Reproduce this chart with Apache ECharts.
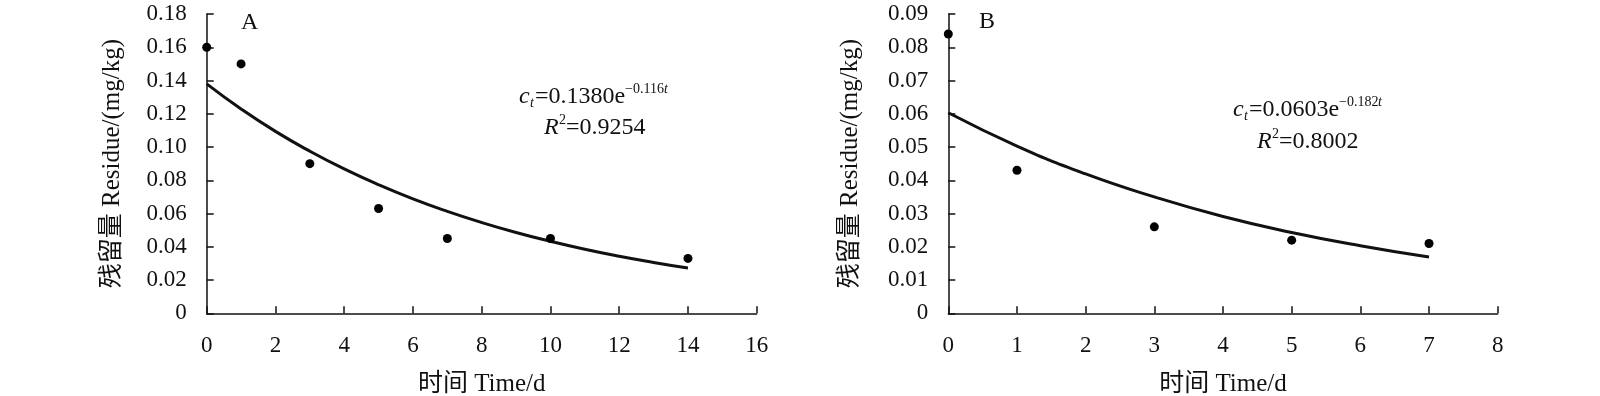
<!DOCTYPE html>
<html><head><meta charset="utf-8">
<script src="https://cdn.jsdelivr.net/npm/echarts@6/dist/echarts.min.js"></script>
<style>html,body{margin:0;padding:0;background:#fff}#c{width:1600px;height:396px}</style>
</head><body><div id="c"></div>
<script>
// Panel A
const daysA = [0, 1, 3, 5, 7, 10, 14];
const residueA = [0.160, 0.150, 0.090, 0.063, 0.045, 0.045, 0.033];
const fitTimeA = [0, 1, 2, 3, 4, 5, 6, 7, 8, 9, 10, 11, 12, 13, 14];
const fitA = [0.1380, 0.1229, 0.1094, 0.0975, 0.0868, 0.0773, 0.0688, 0.0613, 0.0546, 0.0486, 0.0433, 0.0385, 0.0343, 0.0306, 0.0272];
// Panel B
const daysB = [0, 1, 3, 5, 7];
const residueB = [0.084, 0.043, 0.026, 0.022, 0.021];
const fitTimeB = [0, 1, 2, 3, 4, 5, 6, 7];
const fitB = [0.0603, 0.0503, 0.0419, 0.0350, 0.0291, 0.0243, 0.0203, 0.0169];

const yTitle = '残留量 Residue/(mg/kg)';
const xTitle = '时间 Time/d';
const FONT = '"Liberation Serif", "Noto Sans CJK SC", serif';

const pairs = (xs, ys) => xs.map((x, i) => [x, ys[i]]);
const axisCommon = {
  axisLine: {show: true, lineStyle: {color: '#111', width: 1.5}},
  axisTick: {show: true, inside: true, length: 7, lineStyle: {color: '#111', width: 1.5}},
  splitLine: {show: false},
  axisLabel: {color: '#111', fontFamily: FONT, fontSize: 23},
  nameTextStyle: {color: '#111', fontFamily: FONT, fontSize: 25}
};
const yfmt = v => v === 0 ? '0' : v.toFixed(2);

const chart = echarts.init(document.getElementById('c'));
chart.setOption({
  animation: false,
  grid: [
    {left: 206.7, right: 843.3, top: 14, bottom: 82.7, containLabel: false, outerBoundsMode: 'none'},
    {left: 948.3, right: 102.3, top: 14, bottom: 82.7, containLabel: false, outerBoundsMode: 'none'}
  ],
  xAxis: [
    Object.assign({}, axisCommon, {gridIndex: 0, type: 'value', min: 0, max: 16, interval: 2,
      name: xTitle, nameLocation: 'middle', nameGap: 59,
      axisLabel: Object.assign({}, axisCommon.axisLabel, {margin: 21})}),
    Object.assign({}, axisCommon, {gridIndex: 1, type: 'value', min: 0, max: 8, interval: 1,
      name: xTitle, nameLocation: 'middle', nameGap: 59,
      axisLabel: Object.assign({}, axisCommon.axisLabel, {margin: 21})})
  ],
  yAxis: [
    Object.assign({}, axisCommon, {gridIndex: 0, type: 'value', min: 0, max: 0.18, interval: 0.02,
      name: yTitle, nameLocation: 'middle', nameGap: 82,
      axisLabel: Object.assign({}, axisCommon.axisLabel, {margin: 20, formatter: yfmt})}),
    Object.assign({}, axisCommon, {gridIndex: 1, type: 'value', min: 0, max: 0.09, interval: 0.01,
      name: yTitle, nameLocation: 'middle', nameGap: 85,
      axisLabel: Object.assign({}, axisCommon.axisLabel, {margin: 20, formatter: yfmt})})
  ],
  series: [
    {type: 'line', xAxisIndex: 0, yAxisIndex: 0, data: pairs(fitTimeA, fitA), smooth: true,
      showSymbol: false, lineStyle: {color: '#111', width: 3}, z: 2},
    {type: 'scatter', xAxisIndex: 0, yAxisIndex: 0, data: pairs(daysA, residueA), symbolSize: 9,
      itemStyle: {color: '#000', opacity: 1}, z: 3},
    {type: 'line', xAxisIndex: 1, yAxisIndex: 1, data: pairs(fitTimeB, fitB), smooth: true,
      showSymbol: false, lineStyle: {color: '#111', width: 3}, z: 2},
    {type: 'scatter', xAxisIndex: 1, yAxisIndex: 1, data: pairs(daysB, residueB), symbolSize: 9,
      itemStyle: {color: '#000', opacity: 1}, z: 3}
  ],
  graphic: [
    {type: 'text', x: 241, y: 11, style: {text: 'A', font: '24px ' + FONT, fill: '#111'}},
    {type: 'text', x: 979, y: 10, style: {text: 'B', font: '24px ' + FONT, fill: '#111'}},
    // equation A
    {type: 'text', x: 519, y: 85, style: {text: 'c', font: 'italic 24px ' + FONT, fill: '#111'}},
    {type: 'text', x: 530, y: 96, style: {text: 't', font: 'italic 14px ' + FONT, fill: '#111'}},
    {type: 'text', x: 535, y: 85, style: {text: '=0.1380e', font: '24px ' + FONT, fill: '#111'}},
    {type: 'text', x: 625, y: 82, style: {text: '−0.116', font: '14px ' + FONT, fill: '#111'}},
    {type: 'text', x: 664, y: 82, style: {text: 't', font: 'italic 14px ' + FONT, fill: '#111'}},
    {type: 'text', x: 544, y: 116, style: {text: 'R', font: 'italic 24px ' + FONT, fill: '#111'}},
    {type: 'text', x: 559, y: 113, style: {text: '2', font: '14px ' + FONT, fill: '#111'}},
    {type: 'text', x: 566, y: 116, style: {text: '=0.9254', font: '24px ' + FONT, fill: '#111'}},
    // equation B
    {type: 'text', x: 1233, y: 98, style: {text: 'c', font: 'italic 24px ' + FONT, fill: '#111'}},
    {type: 'text', x: 1244, y: 109, style: {text: 't', font: 'italic 14px ' + FONT, fill: '#111'}},
    {type: 'text', x: 1249, y: 98, style: {text: '=0.0603e', font: '24px ' + FONT, fill: '#111'}},
    {type: 'text', x: 1339, y: 95, style: {text: '−0.182', font: '14px ' + FONT, fill: '#111'}},
    {type: 'text', x: 1378, y: 95, style: {text: 't', font: 'italic 14px ' + FONT, fill: '#111'}},
    {type: 'text', x: 1257, y: 130, style: {text: 'R', font: 'italic 24px ' + FONT, fill: '#111'}},
    {type: 'text', x: 1272, y: 127, style: {text: '2', font: '14px ' + FONT, fill: '#111'}},
    {type: 'text', x: 1279, y: 130, style: {text: '=0.8002', font: '24px ' + FONT, fill: '#111'}}
  ]
});
</script></body></html>
